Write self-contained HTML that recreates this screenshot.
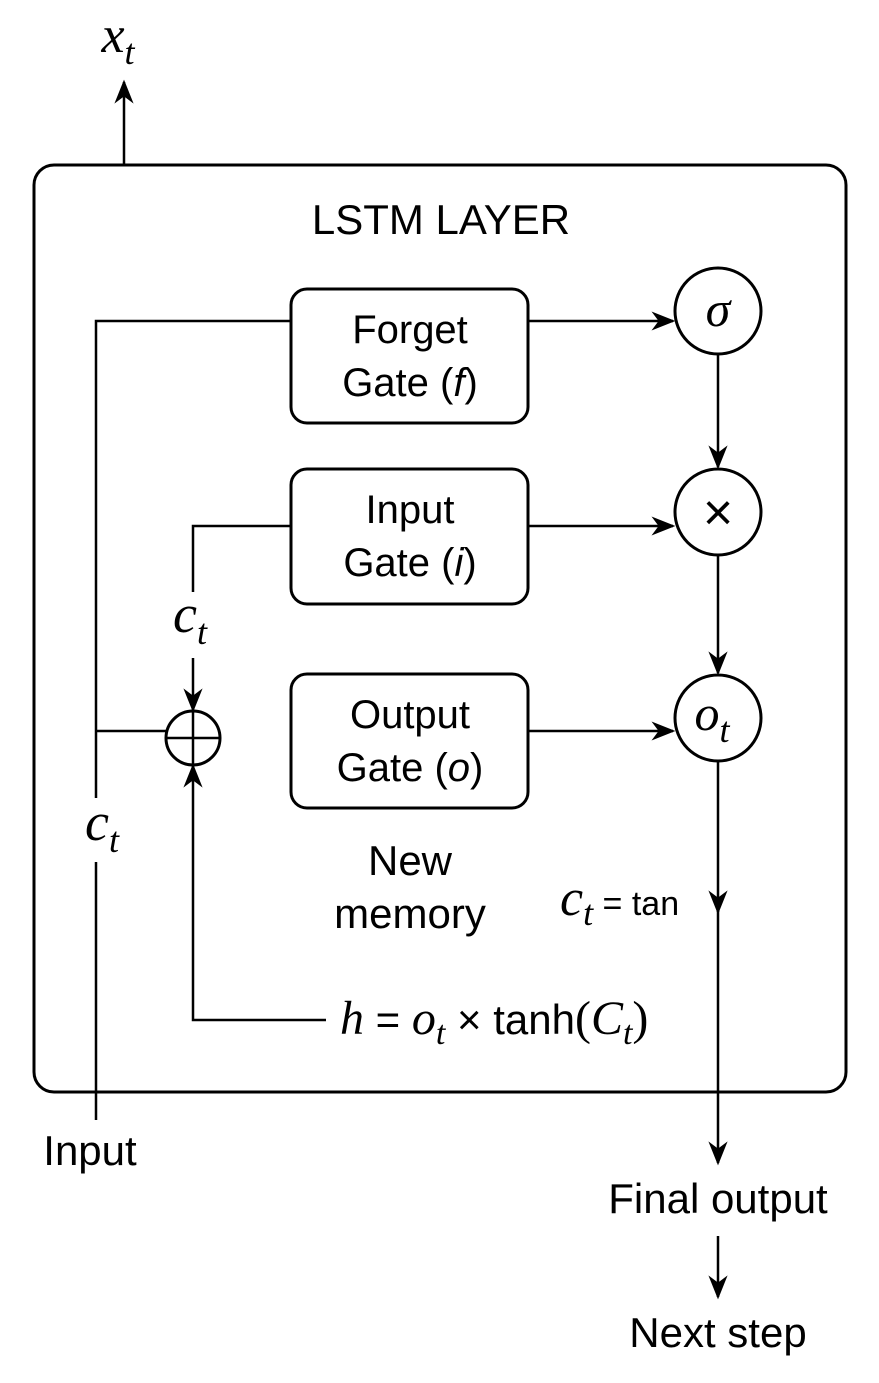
<!DOCTYPE html>
<html><head><meta charset="utf-8"><style>
body{margin:0;background:#fff}
svg text{font-family:"Liberation Sans",sans-serif;fill:#000}
.m{font-family:"Liberation Serif",serif;font-style:italic}
.u{font-family:"Liberation Serif",serif;font-style:normal}
</style></head><body>
<svg width="879" height="1378" viewBox="0 0 879 1378" xmlns="http://www.w3.org/2000/svg">
<defs>
<marker id="b" viewBox="0 0 10 10" refX="9" refY="5" markerWidth="24" markerHeight="24" markerUnits="userSpaceOnUse" orient="auto"><path d="M0,1 L10,5 L0,9 L3,5z" fill="#000"/></marker></defs>
<g fill="none" stroke="#000" stroke-width="3">
<rect x="34" y="165" width="812" height="927" rx="20"/>
<rect x="291" y="289" width="237" height="134" rx="16"/>
<rect x="291" y="469" width="237" height="135" rx="16"/>
<rect x="291" y="674" width="237" height="134" rx="16"/>
<circle cx="718" cy="311" r="43"/>
<circle cx="718" cy="512" r="43"/>
<circle cx="718" cy="718" r="43"/>
<circle cx="193" cy="738" r="27"/>
</g>
<g stroke="#000" stroke-width="2.5" fill="none">
<line x1="124" y1="165" x2="124" y2="82" marker-end="url(#b)"/>
<line x1="528" y1="321" x2="673" y2="321" marker-end="url(#b)"/>
<line x1="528" y1="526" x2="673" y2="526" marker-end="url(#b)"/>
<line x1="528" y1="731" x2="673" y2="731" marker-end="url(#b)"/>
<line x1="718" y1="354" x2="718" y2="467" marker-end="url(#b)"/>
<line x1="718" y1="555" x2="718" y2="673" marker-end="url(#b)"/>
<line x1="718" y1="761" x2="718" y2="912" marker-end="url(#b)"/>
<line x1="718" y1="900" x2="718" y2="1163" marker-end="url(#b)"/>
<line x1="718" y1="1236" x2="718" y2="1297" marker-end="url(#b)"/>
<polyline points="291,321 96,321 96,798"/>
<line x1="96" y1="862" x2="96" y2="1120"/>
<line x1="96" y1="731" x2="166" y2="731"/>
<polyline points="291,526 193,526 193,592"/>
<line x1="193" y1="658" x2="193" y2="710" marker-end="url(#b)"/>
<polyline points="326,1020 193,1020 193,766" marker-end="url(#b)"/>
<line x1="193" y1="711" x2="193" y2="765"/>
<line x1="166" y1="738" x2="220" y2="738"/>
</g>
<text x="118" y="52" class="m" font-size="52" text-anchor="middle">x<tspan font-size="36" dy="12">t</tspan></text>
<text x="441" y="234" font-size="42" text-anchor="middle">LSTM LAYER</text>
<text x="410" y="343" font-size="40" text-anchor="middle">Forget</text>
<text x="410" y="396" font-size="40" text-anchor="middle">Gate (<tspan font-style="italic">f</tspan>)</text>
<text x="410" y="523" font-size="40" text-anchor="middle">Input</text>
<text x="410" y="576" font-size="40" text-anchor="middle">Gate (<tspan font-style="italic">i</tspan>)</text>
<text x="410" y="728" font-size="40" text-anchor="middle">Output</text>
<text x="410" y="781" font-size="40" text-anchor="middle">Gate (<tspan font-style="italic">o</tspan>)</text>
<text x="410" y="875" font-size="42" text-anchor="middle">New</text>
<text x="410" y="928" font-size="42" text-anchor="middle">memory</text>
<text x="718" y="326" class="m" font-size="50" text-anchor="middle">σ</text>
<text x="718" y="530" font-size="52" text-anchor="middle">×</text>
<text x="712" y="730" class="m" font-size="50" text-anchor="middle">o<tspan font-size="36" dy="12">t</tspan></text>
<text x="190" y="632" class="m" font-size="54" text-anchor="middle">c<tspan font-size="36" dy="12">t</tspan></text>
<text x="102" y="840" class="m" font-size="54" text-anchor="middle">c<tspan font-size="36" dy="12">t</tspan></text>
<text x="560" y="915" font-size="34"><tspan class="m" font-size="52">c</tspan><tspan class="m" font-size="36" dy="10">t</tspan><tspan dy="-10"> = tan</tspan></text>
<text x="340" y="1034" font-size="42"><tspan class="m" font-size="48">h</tspan> = <tspan class="m" font-size="48">o</tspan><tspan class="m" font-size="34" dy="10">t</tspan><tspan dy="-10"> × </tspan><tspan>tanh</tspan><tspan class="u" font-size="48">(</tspan><tspan class="m" font-size="48">C</tspan><tspan class="m" font-size="34" dy="10">t</tspan><tspan dy="-10" class="u" font-size="48">)</tspan></text>
<text x="90" y="1165" font-size="42" text-anchor="middle">Input</text>
<text x="718" y="1213" font-size="42" text-anchor="middle">Final output</text>
<text x="718" y="1347" font-size="42" text-anchor="middle">Next step</text>
</svg>
</body></html>
